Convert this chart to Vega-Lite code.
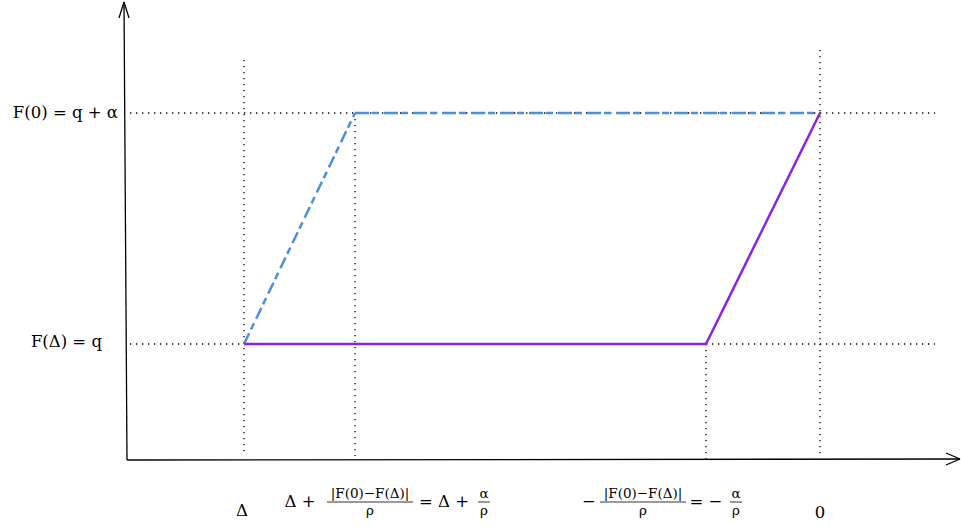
{
  "$schema": "https://vega.github.io/schema/vega-lite/v6.json",
  "width": 961,
  "height": 527,
  "padding": 0,
  "autosize": {"type": "fit", "contains": "padding"},
  "background": "white",
  "config": {"view": {"stroke": null}},
  "datasets": {
    "axes": [
      {"x": 127, "y": 460, "x2": 124, "y2": 2},
      {"x": 127, "y": 460, "x2": 960, "y2": 459},
      {"x": 124, "y": 2, "x2": 119, "y2": 18},
      {"x": 124, "y": 2, "x2": 129, "y2": 18},
      {"x": 960, "y": 459, "x2": 946, "y2": 453},
      {"x": 960, "y": 459, "x2": 946, "y2": 465}
    ],
    "guides": [
      {"x": 130, "y": 113, "x2": 935, "y2": 113},
      {"x": 130, "y": 344, "x2": 935, "y2": 344},
      {"x": 244, "y": 60, "x2": 244, "y2": 456},
      {"x": 355, "y": 113, "x2": 355, "y2": 456},
      {"x": 706, "y": 344, "x2": 706, "y2": 460},
      {"x": 820, "y": 50, "x2": 820, "y2": 456}
    ],
    "blueRise": [{"x": 244, "y": 344, "x2": 355, "y2": 113}],
    "blueTop": [{"x": 355, "y": 113, "x2": 820, "y2": 113}],
    "purple": [
      {"x": 244, "y": 344, "k": 1},
      {"x": 706, "y": 344, "k": 2},
      {"x": 820, "y": 113, "k": 3}
    ],
    "leftLabels": [
      {"x": 118, "y": 113, "t": "F(0) = q + α"},
      {"x": 102, "y": 342, "t": "F(Δ) = q"}
    ],
    "bigText": [
      {"x": 242, "y": 511, "t": "Δ"},
      {"x": 300, "y": 502, "t": "Δ +"},
      {"x": 444, "y": 502, "t": "= Δ +"},
      {"x": 589, "y": 502, "t": "−"},
      {"x": 706, "y": 502, "t": "= −"},
      {"x": 820, "y": 513, "t": "0"}
    ],
    "smallText": [
      {"x": 370, "y": 494, "t": "|F(0)−F(Δ)|"},
      {"x": 370, "y": 511, "t": "ρ"},
      {"x": 484, "y": 494, "t": "α"},
      {"x": 484, "y": 511, "t": "ρ"},
      {"x": 643, "y": 494, "t": "|F(0)−F(Δ)|"},
      {"x": 643, "y": 511, "t": "ρ"},
      {"x": 736, "y": 494, "t": "α"},
      {"x": 736, "y": 511, "t": "ρ"}
    ],
    "bars": [
      {"x": 327, "y": 502, "x2": 413, "y2": 502},
      {"x": 478, "y": 502, "x2": 490, "y2": 502},
      {"x": 600, "y": 502, "x2": 686, "y2": 502},
      {"x": 730, "y": 502, "x2": 742, "y2": 502}
    ]
  },
  "encoding": {
    "x": {"field": "x", "type": "quantitative", "scale": {"domain": [0, 961], "nice": false, "zero": false}, "axis": null},
    "y": {"field": "y", "type": "quantitative", "scale": {"domain": [0, 527], "nice": false, "zero": false, "reverse": true}, "axis": null}
  },
  "layer": [
    {
      "data": {"name": "guides"},
      "mark": {"type": "rule", "color": "black", "strokeWidth": 1.3, "strokeDash": [1.3, 4.7]},
      "encoding": {"x2": {"field": "x2"}, "y2": {"field": "y2"}}
    },
    {
      "data": {"name": "axes"},
      "mark": {"type": "rule", "color": "black", "strokeWidth": 1.3},
      "encoding": {"x2": {"field": "x2"}, "y2": {"field": "y2"}}
    },
    {
      "data": {"name": "blueRise"},
      "mark": {"type": "rule", "color": "#4a8fe0", "strokeWidth": 2.5, "strokeDash": [12, 4, 7, 5]},
      "encoding": {"x2": {"field": "x2"}, "y2": {"field": "y2"}}
    },
    {
      "data": {"name": "blueTop"},
      "mark": {"type": "rule", "color": "#4a8fe0", "strokeWidth": 2.5, "strokeDash": [14, 3, 7, 5]},
      "encoding": {"x2": {"field": "x2"}, "y2": {"field": "y2"}}
    },
    {
      "data": {"name": "purple"},
      "mark": {"type": "line", "color": "#8a22e6", "strokeWidth": 2.5},
      "encoding": {"order": {"field": "k", "type": "quantitative"}}
    },
    {
      "data": {"name": "leftLabels"},
      "mark": {"type": "text", "align": "right", "baseline": "middle", "font": "DejaVu Serif", "fontSize": 16.5, "color": "black"},
      "encoding": {"text": {"field": "t"}}
    },
    {
      "data": {"name": "bigText"},
      "mark": {"type": "text", "align": "center", "baseline": "middle", "font": "DejaVu Serif", "fontSize": 16.5, "color": "black"},
      "encoding": {"text": {"field": "t"}}
    },
    {
      "data": {"name": "smallText"},
      "mark": {"type": "text", "align": "center", "baseline": "middle", "font": "DejaVu Serif", "fontSize": 13.5, "color": "black"},
      "encoding": {"text": {"field": "t"}}
    },
    {
      "data": {"name": "bars"},
      "mark": {"type": "rule", "color": "black", "strokeWidth": 0.8},
      "encoding": {"x2": {"field": "x2"}, "y2": {"field": "y2"}}
    }
  ]
}
